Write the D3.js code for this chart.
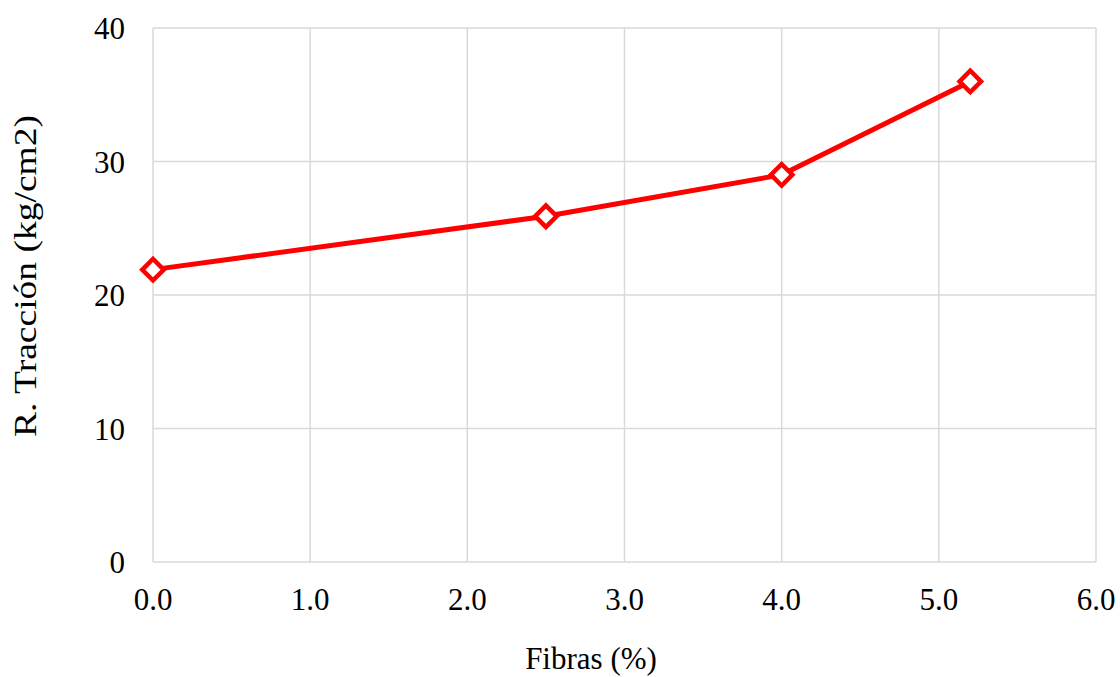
<!DOCTYPE html>
<html>
<head>
<meta charset="utf-8">
<script src="https://cdn.jsdelivr.net/npm/d3@7"></script>
<style>
  html, body { margin: 0; padding: 0; background: #fff; }
  svg { display: block; font-family: "Liberation Serif", "Times New Roman", serif; }
  text { fill: #000; }
</style>
</head>
<body>
<svg id="chart" width="1120" height="677"></svg>
<script>
// Tensile strength vs. fibre content
const fibras = [0.0, 2.5, 4.0, 5.2];
const traccion = [21.9, 25.9, 29.0, 36.0];
const xTicks = [0, 1, 2, 3, 4, 5, 6];
const yTicks = [0, 10, 20, 30, 40];
const xTitle = "Fibras (%)";
const yTitle = "R. Tracción (kg/cm2)";

const svg = d3.select("#chart");
const plotL = 153, plotR = 1096, plotT = 28, plotB = 562;
const fontSize = 31;

const x = d3.scaleLinear().domain([0, 6]).range([plotL, plotR]);
const y = d3.scaleLinear().domain([0, 40]).range([plotB, plotT]);

const grid = "#d9d9d9";

// vertical gridlines
svg.append("g").selectAll("line").data(xTicks).join("line")
  .attr("x1", d => x(d)).attr("x2", d => x(d))
  .attr("y1", plotT).attr("y2", plotB)
  .attr("stroke", grid).attr("stroke-width", 1.5);

// horizontal gridlines
svg.append("g").selectAll("line").data(yTicks).join("line")
  .attr("x1", plotL).attr("x2", plotR)
  .attr("y1", d => y(d)).attr("y2", d => y(d))
  .attr("stroke", grid).attr("stroke-width", 1.5);

// tick labels
svg.append("g").selectAll("text").data(xTicks).join("text")
  .attr("x", d => x(d)).attr("y", plotB + 48)
  .attr("text-anchor", "middle").attr("font-size", fontSize)
  .text(d3.format(".1f"));

svg.append("g").selectAll("text").data(yTicks).join("text")
  .attr("x", plotL - 28).attr("y", d => y(d) + 11)
  .attr("text-anchor", "end").attr("font-size", fontSize)
  .text(d => d);

// axis titles
svg.append("text").attr("x", 591).attr("y", 669)
  .attr("text-anchor", "middle").attr("font-size", fontSize).text(xTitle);
svg.append("text")
  .attr("transform", `translate(36,276) rotate(-90)`)
  .attr("text-anchor", "middle").attr("font-size", fontSize)
  .attr("textLength", 322).attr("lengthAdjust", "spacingAndGlyphs")
  .text(yTitle);

// series line
const pts = fibras.map((f, i) => [f, traccion[i]]);
svg.append("path").datum(pts)
  .attr("fill", "none").attr("stroke", "#ff0000").attr("stroke-width", 5)
  .attr("stroke-linejoin", "round")
  .attr("d", d3.line().x(d => x(d[0])).y(d => y(d[1])));

// diamond markers
const diamond = d3.symbol().type(d3.symbolSquare).size(230);
svg.append("g").selectAll("path").data(pts).join("path")
  .attr("d", diamond)
  .attr("transform", d => `translate(${x(d[0])},${y(d[1])}) rotate(45)`)
  .attr("fill", "#fff").attr("stroke", "#ff0000").attr("stroke-width", 4.5);
</script>
</body>
</html>
